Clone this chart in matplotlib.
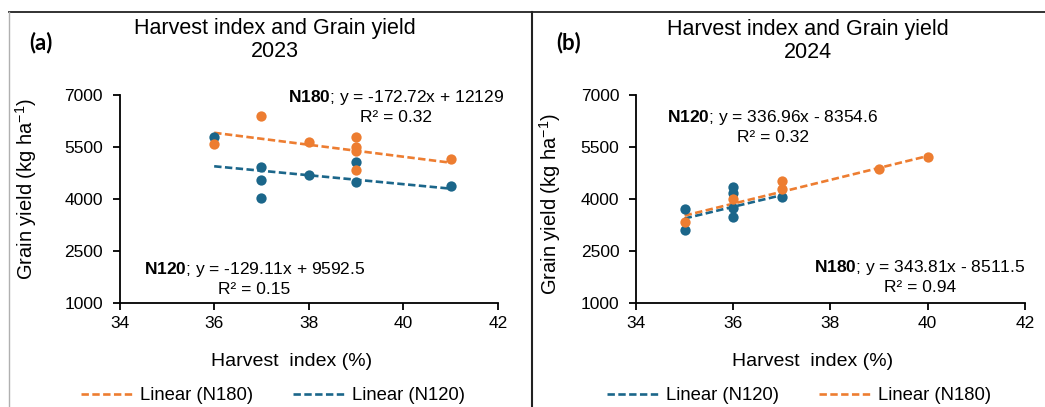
import matplotlib
matplotlib.use("Agg")
import numpy as np
import matplotlib.pyplot as plt
from matplotlib.lines import Line2D

plt.rcParams['font.family'] = ['Liberation Sans', 'DejaVu Sans']
plt.rcParams['mathtext.fontset'] = 'custom'
plt.rcParams['mathtext.rm'] = 'Liberation Sans'
plt.rcParams['mathtext.bf'] = 'Liberation Sans:bold'
plt.rcParams['mathtext.it'] = 'Liberation Sans:italic'

ORANGE = '#ED7D31'
BLUE = '#1B668A'
W, H = 1045, 407

# 2023 season
hi23_n180 = [36, 37, 38, 39, 39, 39, 39, 41]
gy23_n180 = [5577, 6403, 5635, 5779, 5509, 5394, 4828, 5144]
hi23_n120 = [36, 37, 37, 37, 38, 39, 39, 41]
gy23_n120 = [5797, 4914, 4556, 4037, 4701, 5076, 4490, 4375]

# 2024 season
hi24_n120 = [35, 35, 36, 36, 36, 36, 37]
gy24_n120 = [3703, 3105, 4337, 4181, 3749, 3489, 4066]
hi24_n180 = [35, 36, 37, 37, 39, 40]
gy24_n180 = [3345, 3991, 4528, 4288, 4861, 5218]

# trendline coefficients (slope, intercept, R2)
fit23_n180 = (-172.72, 12129, 0.32)
fit23_n120 = (-129.11, 9592.5, 0.15)
fit24_n120 = (336.96, -8354.6, 0.32)
fit24_n180 = (343.81, -8511.5, 0.94)

fig = plt.figure(figsize=(W / 100, H / 100), dpi=100)
ax1 = fig.add_axes([0.1144, 0.2555, 0.3622, 0.511])
ax2 = fig.add_axes([0.6086, 0.2555, 0.3722, 0.511])


def px(x, y):
    # pixel position (from top-left) -> figure fraction
    return x / W, 1 - y / H


def trend(ax, x, fit, color, label):
    xs = np.array([min(x), max(x)])
    ys = fit[0] * xs + fit[1]
    ax.plot(xs, ys, color=color, lw=1.9, ls=(0, (2.8, 1.3)), label=label, zorder=3)


def eq_text(name, fit):
    b = fit[1]
    sign = '+' if b >= 0 else '-'
    return (r'$\mathbf{%s}$; y = %gx %s %g' % (name, fit[0], sign, abs(b))
            + '\nR\u00b2 = %.2f' % fit[2])


def style(ax):
    ax.set_xlim(34, 42)
    ax.set_ylim(1000, 7000)
    ax.set_xticks([34, 36, 38, 40, 42])
    ax.set_yticks([1000, 2500, 4000, 5500, 7000])
    for s in ['top', 'right']:
        ax.spines[s].set_visible(False)
    for s in ['left', 'bottom']:
        ax.spines[s].set_linewidth(1.3)
    ax.tick_params(direction='out', length=5, width=1.3, labelsize=12.5)
    ax.tick_params(axis='x', pad=4)
    ax.tick_params(axis='y', pad=7)


# panel (a)
trend(ax1, hi23_n180, fit23_n180, ORANGE, 'Linear (N180)')
trend(ax1, hi23_n120, fit23_n120, BLUE, 'Linear (N120)')
ax1.scatter(hi23_n120, gy23_n120, s=55, color=BLUE, zorder=4, linewidths=0)
ax1.scatter(hi23_n180, gy23_n180, s=55, color=ORANGE, zorder=4, linewidths=0)
ax1.text(39.85, 6668, eq_text('N180', fit23_n180), ha='center', va='center',
         fontsize=12.5, linespacing=1.25)
ax1.text(36.85, 1720, eq_text('N120', fit23_n120), ha='center', va='center',
         fontsize=12.5, linespacing=1.25)
style(ax1)

# panel (b)
trend(ax2, hi24_n120, fit24_n120, BLUE, 'Linear (N120)')
trend(ax2, hi24_n180, fit24_n180, ORANGE, 'Linear (N180)')
ax2.scatter(hi24_n120, gy24_n120, s=55, color=BLUE, zorder=4, linewidths=0)
ax2.scatter(hi24_n180, gy24_n180, s=55, color=ORANGE, zorder=4, linewidths=0)
ax2.text(36.82, 6091, eq_text('N120', fit24_n120), ha='center', va='center',
         fontsize=12.5, linespacing=1.25)
ax2.text(39.84, 1778, eq_text('N180', fit24_n180), ha='center', va='center',
         fontsize=12.5, linespacing=1.25)
style(ax2)

# titles and axis labels
fig.text(*px(275, 40), 'Harvest index and Grain yield\n2023', fontsize=15.5,
         ha='center', va='center', linespacing=1.15)
fig.text(*px(808, 41), 'Harvest index and Grain yield\n2024', fontsize=15.5,
         ha='center', va='center', linespacing=1.15)
fig.text(*px(292, 362), 'Harvest  index (%)', fontsize=14, ha='center', va='center')
fig.text(*px(813, 362), 'Harvest  index (%)', fontsize=14, ha='center', va='center')
fig.text(*px(26, 189), 'Grain yield (kg ha$^{-1}$)', fontsize=14.5, rotation=90,
         ha='center', va='center')
fig.text(*px(550, 204), 'Grain yield (kg ha$^{-1}$)', fontsize=14.5, rotation=90,
         ha='center', va='center')

for ax, cx in [(ax1, 273), (ax2, 799)]:
    ax.legend(loc='center', bbox_to_anchor=px(cx, 396), bbox_transform=fig.transFigure,
              ncol=2, frameon=False, fontsize=13.3, handlelength=2.9,
              handletextpad=0.3, columnspacing=2.2)

# panel letters
fig.text(*px(29, 43), '(a)', fontsize=16, fontweight='bold',
         family='Lato', va='center', ha='left')
fig.text(*px(556, 43), '(b)', fontsize=16, fontweight='bold',
         family='Lato', va='center', ha='left')

# frame lines around the panels
fig.add_artist(Line2D([9 / W, 1], [1 - 12 / H] * 2, color='#222222', lw=1.3))
fig.add_artist(Line2D([9 / W] * 2, [0, 1 - 12 / H], color='#b0b0b0', lw=1.0))
fig.add_artist(Line2D([532 / W] * 2, [0, 1 - 12 / H], color='#222222', lw=1.5))

fig.savefig('out.png', dpi=100)
